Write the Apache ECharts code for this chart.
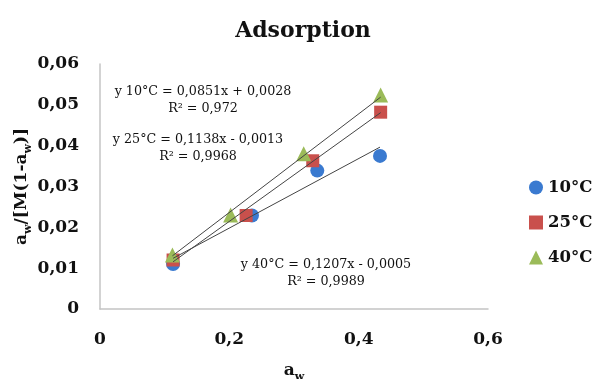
<!DOCTYPE html>
<html>
<head>
<meta charset="utf-8">
<script src="https://cdn.jsdelivr.net/npm/echarts@6/dist/echarts.min.js"></script>
<style>
  html, body { margin: 0; padding: 0; background: #fff; }
  #chart { width: 595px; height: 379px; }
</style>
</head>
<body>
<div id="chart"></div>
<script>
// Data
const seriesNames = ["10°C", "25°C", "40°C"];
const aw10 = [0.113, 0.235, 0.336, 0.433];
const val10 = [0.0110, 0.0229, 0.0339, 0.0375];
const aw25 = [0.113, 0.226, 0.329, 0.434];
const val25 = [0.0120, 0.0229, 0.0363, 0.0482];
const aw40 = [0.112, 0.202, 0.315, 0.434];
const val40 = [0.0132, 0.0230, 0.0380, 0.0524];

// trend line coefficients (slope, intercept) as printed on the chart
const slopes = [0.0851, 0.1138, 0.1207];
const intercepts = [0.0028, -0.0013, -0.0005];
const equationTexts = [
    ["y 10°C = 0,0851x + 0,0028", "R² = 0,972"],
    ["y 25°C = 0,1138x - 0,0013", "R² = 0,9968"],
    ["y 40°C = 0,1207x - 0,0005", "R² = 0,9989"],
];

const xTicks = [0, 0.2, 0.4, 0.6];
const yTicks = [0, 0.01, 0.02, 0.03, 0.04, 0.05, 0.06];

const colors = ["#3a7ad0", "#c9504c", "#9bbb59"];
const symbols = ["circle", "rect", "triangle"];
const sizes = [14, 13, 15];
const serif = "'DejaVu Serif', 'Liberation Serif', serif";

const fmt = (v) => (v === 0 ? "0" : String(+v.toFixed(2)).replace(".", ","));

const xsAll = [aw10, aw25, aw40];
const ysAll = [val10, val25, val40];

const scatterSeries = seriesNames.map((name, i) => ({
    name: name,
    type: "scatter",
    symbol: symbols[i],
    symbolSize: sizes[i],
    itemStyle: { color: colors[i], opacity: 1 },
    data: xsAll[i].map((x, k) => [x, ysAll[i][k]]),
    z: 2,
}));

// trend lines span the measured aw range of each series
const trendSeries = seriesNames.map((name, i) => {
    const x0 = Math.min(...xsAll[i]);
    const x1 = Math.max(...xsAll[i]);
    return {
        name: "trend " + name,
        type: "line",
        symbol: "none",
        silent: true,
        lineStyle: { color: "#444", width: 1 },
        data: [
            [x0, slopes[i] * x0 + intercepts[i]],
            [x1, slopes[i] * x1 + intercepts[i]],
        ],
        z: 3,
    };
});

const eqPos = [[203, 92], [198, 140], [326, 265]];
const graphics = [];
equationTexts.forEach((lines, i) => {
    lines.forEach((t, j) => {
        graphics.push({
            type: "text",
            x: eqPos[i][0],
            y: eqPos[i][1] + j * 17,
            style: {
                text: t,
                align: "center",
                verticalAlign: "middle",
                font: "12.7px " + serif,
                fill: "#111",
            },
        });
    });
});

const nameRich = {
    m: { fontFamily: serif, fontSize: 17, fontWeight: "bold", color: "#111", lineHeight: 22, verticalAlign: "bottom" },
    s: { fontFamily: serif, fontSize: 11, fontWeight: "bold", color: "#111", lineHeight: 22, verticalAlign: "bottom", padding: [0, 0, -4, 0] },
};

const chart = echarts.init(document.getElementById("chart"));
chart.setOption({
    animation: false,
    title: {
        text: "Adsorption",
        left: 298,
        textAlign: "center",
        top: 15,
        textStyle: { fontFamily: serif, fontSize: 22, fontWeight: "bold", color: "#111" },
    },
    grid: { left: 100, right: 107, top: 64, bottom: 70, outerBoundsMode: "none" },
    legend: {
        orient: "vertical",
        left: 529,
        top: 179,
        padding: 0,
        itemGap: 18,
        itemWidth: 14,
        itemHeight: 14,
        data: seriesNames,
        textStyle: { fontFamily: serif, fontSize: 16.5, fontWeight: "bold", color: "#111" },
    },
    xAxis: {
        type: "value",
        min: xTicks[0],
        max: xTicks[xTicks.length - 1],
        interval: 0.2,
        splitLine: { show: false },
        axisTick: { show: false },
        axisLine: { show: true, lineStyle: { color: "#c4c4c4", width: 1.5 } },
        axisLabel: {
            margin: 22,
            formatter: fmt,
            fontFamily: serif, fontSize: 17, fontWeight: "bold", color: "#111",
        },
        name: "{m|a}{s|w}",
        nameLocation: "middle",
        nameGap: 48,
        nameMoveOverlap: false,
        nameTextStyle: { rich: nameRich },
    },
    yAxis: {
        type: "value",
        min: yTicks[0],
        max: yTicks[yTicks.length - 1],
        interval: 0.01,
        splitLine: { show: false },
        axisTick: { show: false },
        axisLine: { show: true, lineStyle: { color: "#c4c4c4", width: 1.5 } },
        axisLabel: {
            margin: 21,
            formatter: fmt,
            fontFamily: serif, fontSize: 17, fontWeight: "bold", color: "#111",
        },
        name: "{m|a}{s|w}{m|/[M(1-a}{s|w}{m|)]}",
        nameLocation: "middle",
        nameGap: 70,
        nameMoveOverlap: false,
        nameTextStyle: { rich: nameRich },
    },
    series: scatterSeries.concat(trendSeries),
    graphic: graphics,
});
</script>
</body>
</html>
